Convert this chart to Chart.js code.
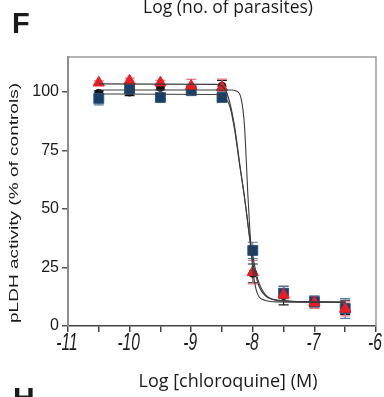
<!DOCTYPE html>
<html lang="en">

<head>
    <meta charset="UTF-8">
    <title>pLDH activity vs chloroquine</title>
    <script src="https://cdn.jsdelivr.net/npm/chart.js"></script>
    <style>
        body { margin: 0; background: #fff; }
    </style>
</head>

<body>
    <canvas id="myChart" width="384" height="397"></canvas>
    <script>
        /* Datos */
        const concentrations = [-10.5, -10, -9.5, -9, -8.5, -8, -7.5, -7, -6.5];

        const redValues = [104.0, 104.8, 104.0, 102.6, 102.0, 23.0, 13.3, 10.0, 7.3];
        const redErrors = [0.8, 1.2, 1.0, 2.8, 3.5, 5.0, 2.5, 2.5, 3.0];

        const blackValues = [99.5, 100.0, 102.0, 101.0, 102.5, 22.5, 13.0, 10.2, 8.0];
        const blackErrors = [1.0, 1.5, 1.0, 1.0, 2.5, 4.0, 4.0, 2.0, 3.0];

        const blueValues = [97.3, 101.3, 97.7, 100.6, 97.7, 32.3, 14.0, 10.4, 7.5];
        const blueErrors = [2.8, 1.5, 0.8, 0.8, 1.5, 3.5, 3.0, 2.5, 4.2];

        // curvas ajustadas, puntos
        const redCurveX = [-10.5, -8.6, -8.5, -8.4, -8.3, -8.2, -8.14, -8.1, -8.05, -8.0, -7.9, -7.8, -7.6, -7.0, -6.5];
        const redCurveY = [103.5, 103.3, 102.6, 98, 86, 67, 56, 48, 37, 27, 17, 13, 11, 10.3, 10.2];

        const blackCurveX = [-10.5, -8.35, -8.27, -8.19, -8.136, -8.108, -8.08, -8.05, -8.03, -8.0, -7.95, -7.9, -7.8, -7.6, -7.0, -6.5];
        const blackCurveY = [100.9, 100.9, 100.5, 97.3, 86, 72, 56, 42, 34, 24, 16, 12.5, 11, 10.3, 10.2, 10.1];

        const blueCurveX = [-10.5, -8.6, -8.5, -8.38, -8.3, -8.22, -8.14, -8.05, -8.0, -7.92, -7.8, -7.6, -7.0, -6.5];
        const blueCurveY = [99.2, 99.0, 98.3, 94.4, 84.6, 70, 56, 38, 30, 20, 13.5, 11, 10.3, 10.2];

        const xTickLabels = [-11, -10, -9, -8, -7, -6];
        const yTicks = [0, 25, 50, 75, 100];

        const RED = '#ec1c24';
        const BLUE = '#173f6b';
        const BLACK = '#111111';

        function toPoints(xs, ys) {
            return xs.map((x, i) => ({ x: x, y: ys[i] }));
        }

        function curve(xs, ys) {
            return {
                type: 'line',
                data: toPoints(xs, ys),
                borderColor: '#3c3c3c',
                borderWidth: 1.1,
                pointRadius: 0,
                cubicInterpolationMode: 'monotone',
                fill: false,
                order: 0
            };
        }

        const errorSeries = [
            { values: blackValues, errors: blackErrors, color: '#1a1a1a' },
            { values: blueValues, errors: blueErrors, color: '#5b7ea6' },
            { values: redValues, errors: redErrors, color: '#f0767a' }
        ];

        /* Barras de error */
        const errorBars = {
            id: 'errorBars',
            beforeDatasetsDraw(chart) {
                const ctx = chart.ctx;
                const xs = chart.scales.x;
                const ys = chart.scales.y;
                ctx.save();
                ctx.lineWidth = 1.2;
                errorSeries.forEach((s) => {
                    ctx.strokeStyle = s.color;
                    concentrations.forEach((c, i) => {
                        const px = xs.getPixelForValue(c);
                        const top = ys.getPixelForValue(s.values[i] + s.errors[i]);
                        const bot = ys.getPixelForValue(s.values[i] - s.errors[i]);
                        ctx.beginPath();
                        ctx.moveTo(px, top);
                        ctx.lineTo(px, bot);
                        ctx.moveTo(px - 5, top);
                        ctx.lineTo(px + 5, top);
                        ctx.moveTo(px - 5, bot);
                        ctx.lineTo(px + 5, bot);
                        ctx.stroke();
                    });
                });
                ctx.restore();
            }
        };

        function drawText(ctx, text, x, y, font, opts) {
            opts = opts || {};
            ctx.save();
            ctx.font = font;
            ctx.fillStyle = '#1a1a1a';
            ctx.textAlign = opts.align || 'left';
            ctx.textBaseline = 'alphabetic';
            ctx.translate(x, y);
            if (opts.rotate) ctx.rotate(opts.rotate);
            let sx = 1;
            if (opts.width) sx = opts.width / ctx.measureText(text).width;
            ctx.scale(sx, opts.sy || 1);
            ctx.fillText(text, 0, 0);
            ctx.restore();
        }

        /* Marco y textos */
        const decorations = {
            id: 'decorations',
            afterDraw(chart) {
                const ctx = chart.ctx;
                const a = chart.chartArea;
                const xs = chart.scales.x;

                ctx.save();
                ctx.strokeStyle = '#9a9a9a';
                ctx.lineWidth = 1.5;
                ctx.beginPath();
                ctx.moveTo(a.left, a.top);
                ctx.lineTo(a.right, a.top);
                ctx.lineTo(a.right, a.bottom);
                ctx.stroke();
                ctx.restore();

                xTickLabels.forEach((v) => {
                    drawText(ctx, String(v), xs.getPixelForValue(v) - 1, 350,
                        'italic 15.5px "Liberation Sans", Arial', { align: 'center', sy: 1.5 });
                });

                drawText(ctx, 'F', 12, 33, 'bold 29px "Liberation Sans", Arial');
                drawText(ctx, 'H', 13, 408, 'bold 30px "Liberation Sans", Arial');
                drawText(ctx, 'Log (no. of parasites)', 228, 13, '15px "Open Sans"', { align: 'center', width: 170, sy: 1.15 });
                drawText(ctx, 'Log [chloroquine] (M)', 228, 387, '15px "Open Sans"', { align: 'center', width: 179, sy: 1.15 });
                drawText(ctx, 'pLDH activity (% of controls)', 17.5, 203, '19px "Liberation Sans", Arial',
                    { align: 'center', rotate: -Math.PI / 2, width: 240, sy: 0.68 });
            }
        };

        const config = {
            type: 'scatter',
            data: {
                datasets: [
                    curve(redCurveX, redCurveY),
                    curve(blackCurveX, blackCurveY),
                    curve(blueCurveX, blueCurveY),
                    {
                        data: toPoints(concentrations, redValues),
                        pointStyle: 'triangle',
                        pointRadius: 6.5,
                        backgroundColor: RED,
                        borderColor: RED,
                        borderWidth: 1,
                        order: 1
                    },
                    {
                        data: toPoints(concentrations, blueValues),
                        pointStyle: 'rect',
                        pointRadius: 7,
                        backgroundColor: BLUE,
                        borderColor: '#2f5684',
                        borderWidth: 1,
                        order: 2
                    },
                    {
                        data: toPoints(concentrations, blackValues),
                        pointStyle: 'circle',
                        pointRadius: 4,
                        backgroundColor: BLACK,
                        borderColor: BLACK,
                        borderWidth: 1,
                        order: 3
                    }
                ]
            },
            options: {
                responsive: false,
                animation: false,
                layout: { padding: { top: 57, right: 7, left: 0, bottom: 0 } },
                plugins: {
                    legend: { display: false },
                    tooltip: { enabled: false }
                },
                scales: {
                    x: {
                        type: 'linear',
                        min: -11,
                        max: -6,
                        ticks: { stepSize: 0.5, display: false },
                        grid: { drawOnChartArea: false, drawTicks: true, tickLength: 6, color: '#444', lineWidth: 1.5 },
                        border: { color: '#444', width: 1.5 },
                        afterFit: (s) => { s.height = 71; }
                    },
                    y: {
                        min: 0,
                        max: 115,
                        afterBuildTicks: (s) => { s.ticks = yTicks.map((v) => ({ value: v })); },
                        ticks: {
                            font: { family: '"Liberation Sans", Arial', size: 16 },
                            color: '#1a1a1a',
                            padding: 3
                        },
                        grid: { drawOnChartArea: false, drawTicks: true, tickLength: 6, color: '#555', lineWidth: 1.5 },
                        border: { color: '#8c8c8c', width: 2 },
                        afterFit: (s) => { s.width = 68; }
                    }
                }
            },
            plugins: [errorBars, decorations]
        };

        new Chart(document.getElementById('myChart'), config);
    </script>
</body>

</html>
